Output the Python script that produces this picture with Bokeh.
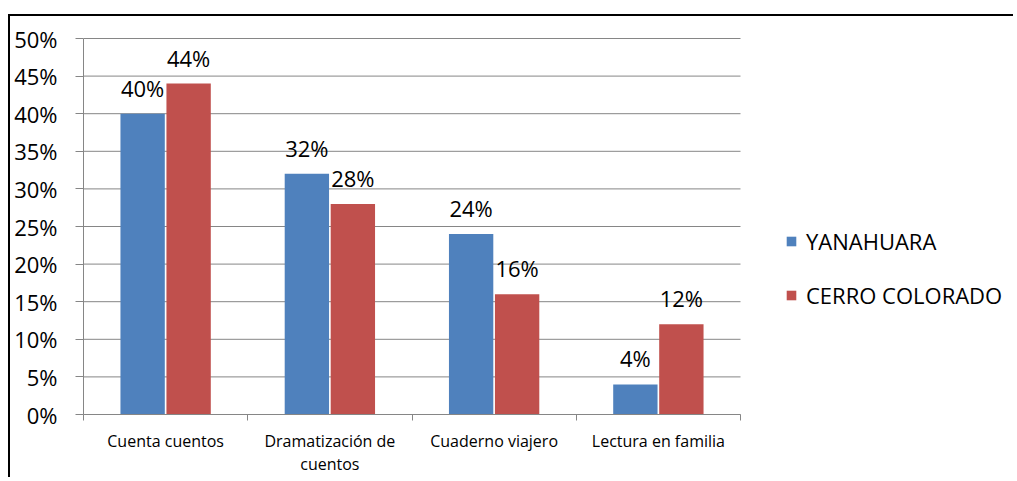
from bokeh.plotting import figure
from bokeh.models import (Range1d, LinearAxis, FixedTicker,
                          NumeralTickFormatter, Legend, LegendItem, ColumnDataSource)
from bokeh.transform import dodge
from bokeh.core.properties import value
from bokeh.embed import file_html
from bokeh.resources import INLINE

categories = ["Cuenta cuentos", "Dramatización de cuentos", "Cuaderno viajero", "Lectura en familia"]
category_labels = ["Cuenta cuentos", "Dramatización de\ncuentos", "Cuaderno viajero", "Lectura en familia"]
yanahuara = [0.40, 0.32, 0.24, 0.04]
cerro_colorado = [0.44, 0.28, 0.16, 0.12]
series_names = ["YANAHUARA", "CERRO COLORADO"]
y_ticks = [0, 0.05, 0.10, 0.15, 0.20, 0.25, 0.30, 0.35, 0.40, 0.45, 0.50]
y_max = 0.50

BLUE = "#4F81BD"
RED = "#C0504D"
GRAY = "#868686"
FONT = "Open Sans"

n = len(categories)
centers = [i + 0.5 for i in range(n)]
boundaries = list(range(n + 1))

# layout geometry (pixels)
W, H = 1005, 463
LEFT, TOP, BOTTOM = 73, 18, 65
PLOT_W = 657            # width of the category area
PLOT_H = 376            # height from 0% to 50%
frame_w = W - LEFT
frame_h = H - TOP - BOTTOM

src = ColumnDataSource(dict(
    x=centers,
    yan=yanahuara,
    cer=cerro_colorado,
    yan_lbl=[f"{round(v*100)}%" for v in yanahuara],
    cer_lbl=[f"{round(v*100)}%" for v in cerro_colorado],
))

p = figure(x_range=Range1d(0, n * frame_w / PLOT_W), y_range=Range1d(0, y_max * frame_h / PLOT_H),
           width=W, height=H, output_backend="svg", toolbar_location=None,
           x_axis_location=None,
           min_border_left=LEFT, min_border_right=0, min_border_top=TOP, min_border_bottom=BOTTOM)
p.styles = {"border-left": "2px solid black", "border-top": "2px solid black",
            "margin-top": "14px", "margin-left": "8px"}
p.outline_line_color = None
p.background_fill_color = "white"
p.border_fill_color = "white"

# y axis
ya = p.yaxis[0]
ya.ticker = FixedTicker(ticks=y_ticks)
ya.formatter = NumeralTickFormatter(format="0%")
ya.bounds = (0, y_max)
ya.axis_line_color = GRAY
ya.major_tick_line_color = GRAY
ya.major_tick_out = 8
ya.major_tick_in = 0
ya.minor_tick_line_color = None
ya.major_label_standoff = 18
ya.major_label_text_font = FONT
ya.major_label_text_font_size = "22px"
ya.major_label_text_color = "black"

p.ygrid.grid_line_color = None
p.xgrid.grid_line_color = None

# horizontal gridlines over the category area only
p.segment(x0=[0] * len(y_ticks), x1=[n] * len(y_ticks), y0=y_ticks, y1=y_ticks,
          line_color=GRAY, line_width=1)

# x axis: labels at category centres, tick marks at category boundaries
xa = LinearAxis(ticker=FixedTicker(ticks=centers, minor_ticks=boundaries), bounds=(0, n),
                major_label_overrides={c: lbl for c, lbl in zip(centers, category_labels)},
                axis_line_color=GRAY, major_tick_line_color=None, major_tick_out=0, major_tick_in=0,
                minor_tick_line_color=GRAY, minor_tick_out=6, minor_tick_in=0,
                major_label_standoff=9, major_label_text_font=FONT,
                major_label_text_font_size="16px", major_label_text_color="black",
                major_label_text_line_height=1.05)
p.add_layout(xa, "below")

r1 = p.vbar(x=dodge("x", -0.14), top="yan", width=0.27, source=src,
            fill_color=BLUE, line_color=None)
r2 = p.vbar(x=dodge("x", 0.14), top="cer", width=0.27, source=src,
            fill_color=RED, line_color=None)

p.text(x=dodge("x", -0.14), y="yan", text="yan_lbl", source=src,
       text_align="center", text_baseline="alphabetic", y_offset=-26,
       text_font=value(FONT), text_font_size="22px", text_color="black")
p.text(x=dodge("x", 0.14), y="cer", text="cer_lbl", source=src,
       text_align="center", text_baseline="alphabetic", y_offset=-26,
       text_font=value(FONT), text_font_size="22px", text_color="black")

legend = Legend(items=[LegendItem(label=series_names[0], renderers=[r1]),
                       LegendItem(label=series_names[1], renderers=[r2])],
                location=(PLOT_W + 45, 104), orientation="vertical",
                glyph_width=12, glyph_height=12, label_standoff=9, spacing=24,
                padding=0, margin=0, border_line_color=None, background_fill_alpha=0,
                label_text_font=FONT, label_text_font_size="22px", label_text_color="black")
p.add_layout(legend)

open("out.html", "w").write(file_html(p, INLINE))
